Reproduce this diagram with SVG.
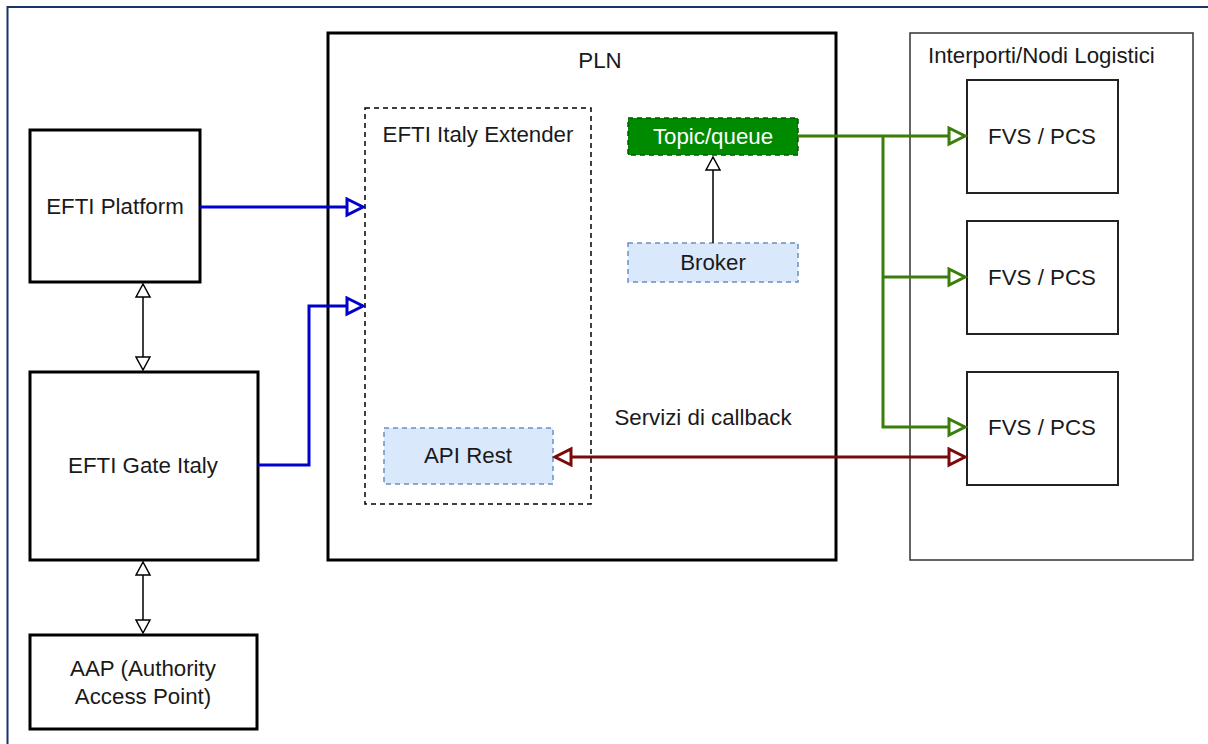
<svg xmlns="http://www.w3.org/2000/svg" width="1208" height="744" viewBox="0 0 1208 744">
<style>
text{font-family:"Liberation Sans",Arial,sans-serif;font-size:22.3px;fill:#1a1a1a;text-anchor:middle;dominant-baseline:central}
.thick{fill:#fff;stroke:#000;stroke-width:3}
.fvs{fill:#fff;stroke:#222;stroke-width:2}
.blue{fill:#dae8fc;stroke:#6c8ebf;stroke-width:1.5;stroke-dasharray:5,4}
.conn{fill:none}
</style>
<defs>
<marker id="aBlue" markerUnits="userSpaceOnUse" markerWidth="24" markerHeight="24" refX="18" refY="10" orient="auto-start-reverse"><path d="M2,2 L18,10 L2,18 Z" fill="#fff" stroke="#0000cc" stroke-width="3"/></marker>
<marker id="aGreen" markerUnits="userSpaceOnUse" markerWidth="24" markerHeight="24" refX="18" refY="10" orient="auto-start-reverse"><path d="M2,2 L18,10 L2,18 Z" fill="#fff" stroke="#3a7d0a" stroke-width="3"/></marker>
<marker id="aRed" markerUnits="userSpaceOnUse" markerWidth="24" markerHeight="24" refX="18" refY="10" orient="auto-start-reverse"><path d="M2,2 L18,10 L2,18 Z" fill="#fff" stroke="#7a0a0a" stroke-width="3"/></marker>
<marker id="aBlack" markerUnits="userSpaceOnUse" markerWidth="18" markerHeight="18" refX="14" refY="8" orient="auto-start-reverse"><path d="M1,1 L14,8 L1,15 Z" fill="#fff" stroke="#000" stroke-width="1.5"/></marker>
</defs>
<rect width="1208" height="744" fill="#fff"/>
<rect x="7.5" y="7" width="1230" height="780" fill="none" stroke="#17346f" stroke-width="2"/>

<g id="pln"><rect class="thick" x="328" y="33" width="508" height="527"/><text x="600" y="60">PLN</text></g>
<g id="interporti"><rect x="910" y="33" width="283" height="527" fill="#fff" stroke="#333" stroke-width="1.5"/><text x="928" y="55" style="text-anchor:start">Interporti/Nodi Logistici</text></g>
<g id="extender"><rect x="365" y="108" width="226" height="396" fill="none" stroke="#000" stroke-width="1.5" stroke-dasharray="5,4"/><text x="478" y="134">EFTI Italy Extender</text></g>

<g id="efti-platform"><rect class="thick" x="30" y="130" width="170" height="152"/><text x="115" y="206">EFTI Platform</text></g>
<g id="efti-gate"><rect class="thick" x="30" y="372" width="228" height="188"/><text x="143" y="465">EFTI Gate Italy</text></g>
<g id="aap"><rect class="thick" x="30" y="635" width="227" height="94"/><text x="143" y="668">AAP (Authority</text><text x="143" y="696">Access Point)</text></g>

<g id="topic"><rect x="628" y="118" width="170" height="37" fill="#008a00" stroke="#005700" stroke-width="1.5" stroke-dasharray="5,4"/><text x="713" y="136" style="fill:#fff">Topic/queue</text></g>
<g id="broker"><rect class="blue" x="628" y="243" width="170" height="39"/><text x="713" y="262">Broker</text></g>
<g id="api-rest"><rect class="blue" x="384" y="428" width="169" height="56"/><text x="468" y="455">API Rest</text></g>
<g id="callback-label"><text x="703" y="417">Servizi di callback</text></g>

<g id="fvs1"><rect class="fvs" x="967" y="80" width="151" height="113"/><text x="1042" y="136">FVS / PCS</text></g>
<g id="fvs2"><rect class="fvs" x="967" y="221" width="151" height="113"/><text x="1042" y="277">FVS / PCS</text></g>
<g id="fvs3"><rect class="fvs" x="967" y="372" width="151" height="113"/><text x="1042" y="427">FVS / PCS</text></g>

<g id="connectors" class="conn">
<path d="M200,207 H363" stroke="#0000cc" stroke-width="3" marker-end="url(#aBlue)"/>
<path d="M258,465 H309 V306 H363" stroke="#0000cc" stroke-width="3" marker-end="url(#aBlue)"/>
<path d="M143,284 V370" stroke="#000" stroke-width="1.5" marker-start="url(#aBlack)" marker-end="url(#aBlack)"/>
<path d="M143,562 V633" stroke="#000" stroke-width="1.5" marker-start="url(#aBlack)" marker-end="url(#aBlack)"/>
<path d="M713,243 V157" stroke="#000" stroke-width="1.5" marker-end="url(#aBlack)"/>
<path d="M798,136 H965" stroke="#3a7d0a" stroke-width="3" marker-end="url(#aGreen)"/>
<path d="M883,136 V427 H965" stroke="#3a7d0a" stroke-width="3" marker-end="url(#aGreen)"/>
<path d="M883,277 H965" stroke="#3a7d0a" stroke-width="3" marker-end="url(#aGreen)"/>
<path d="M555,457 H965" stroke="#7a0a0a" stroke-width="3" marker-start="url(#aRed)" marker-end="url(#aRed)"/>
</g>
</svg>
